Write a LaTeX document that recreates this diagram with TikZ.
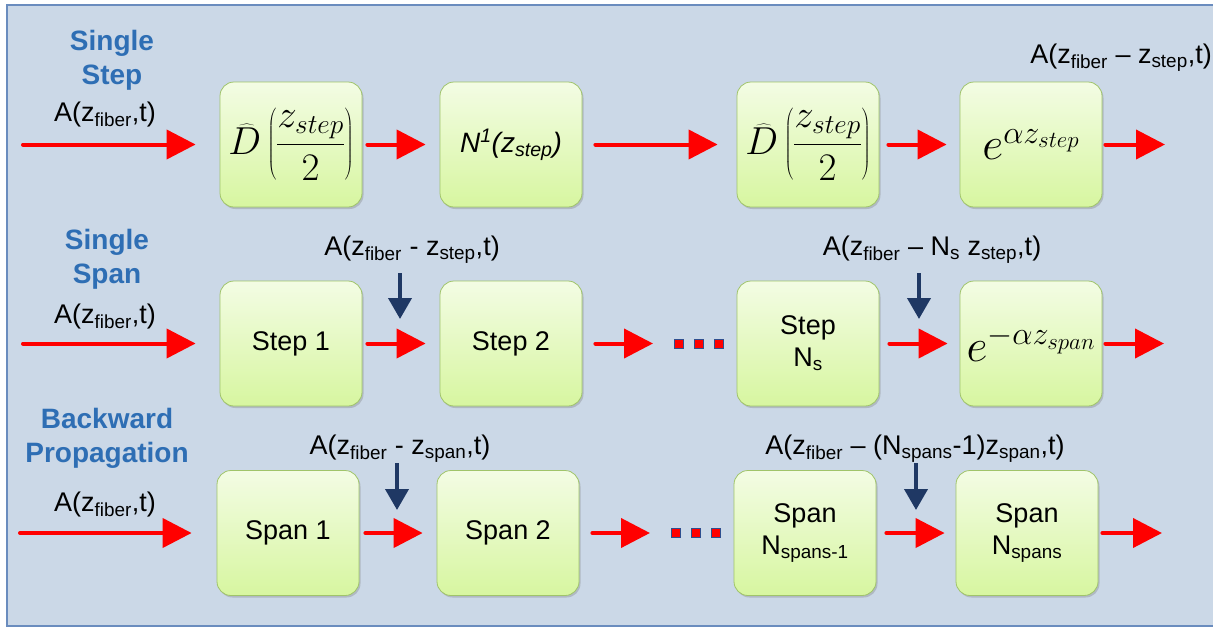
\RequirePackage{fix-cm}
\documentclass[tikz,border=0pt]{standalone}
\usepackage{fontspec}
\setmainfont{Liberation Sans}
\usetikzlibrary{arrows.meta,shadows}
\definecolor{bg}{RGB}{203,216,231}
\definecolor{frame}{RGB}{106,140,190}
\definecolor{hblue}{RGB}{46,110,180}
\definecolor{navy}{RGB}{31,56,100}
\definecolor{boxtop}{RGB}{243,252,228}
\definecolor{boxbot}{RGB}{215,246,160}
\definecolor{boxline}{RGB}{160,196,106}
\definecolor{dotline}{RGB}{47,79,143}
\definecolor{flowred}{RGB}{255,0,0}
\begin{document}
\begin{tikzpicture}[x=1pt,y=-1pt,
  blk/.style={rounded corners=14pt, minimum width=142pt, minimum height=125pt,
    top color=boxtop, bottom color=boxbot, draw=boxline, line width=0.8pt,
    drop shadow={opacity=0.35, shadow xshift=1.5pt, shadow yshift=-2pt},
    align=center, font=\fontsize{27}{32}\selectfont, inner sep=0pt},
  flow/.style={draw=flowred, line width=4pt, line cap=round,
    -{Triangle[length=29pt,width=29pt,fill=flowred]}},
  down/.style={draw=navy, line width=4pt,
    -{Triangle[length=21pt,width=23pt,fill=navy]}},
  head/.style={text=hblue, font=\bfseries\fontsize{28}{34}\selectfont, align=center, inner sep=0pt},
  lbl/.style={font=\fontsize{27}{31}\selectfont, inner sep=0pt},
  sq/.style={fill=flowred, draw=dotline, line width=1pt, minimum size=9pt, inner sep=0pt},
  mathbig/.style={font=\fontsize{39}{42}\selectfont},
  mathexp/.style={font=\fontsize{46}{50}\selectfont}
]
\useasboundingbox (0,0) rectangle (1213,627);
\fill[white] (0,0) rectangle (1213,627);
\begin{scope}
  \clip (0,0) rectangle (1213,627);
  \filldraw[fill=bg, draw=frame, line width=1.5pt] (7,5) rectangle (1230,626);
\end{scope}

% ---------- Row 1: Single Step ----------
\node[head] (h1) at (112,60) {Single\\Step};
\node[lbl] (a1) at (105,115) {A(z\textsubscript{fiber},t)};
\node[blk,mathbig] (s1) at (291,144.5) {$\displaystyle\widehat{D}\left(\frac{z_{step}}{2}\right)$};
\node[blk,font=\fontsize{28}{32}\selectfont] (s2) at (511,144.5) {\itshape N\textsuperscript{1}(z\textsubscript{step})};
\node[blk,mathbig] (s3) at (808,144.5) {$\displaystyle\widehat{D}\left(\frac{z_{step}}{2}\right)$};
\node[blk,mathexp] (s4) at (1031,144.5) {$e^{\alpha z_{step}}$};
\node[lbl] (r1) at (1121,58) {A(z\textsubscript{fiber} -- z\textsubscript{step},t)};
\coordinate (i1) at (23,144.5);
\coordinate (o1) at (1165,144.5);
\draw[flow] (i1) -- ([xshift=-24pt]s1.west);
\draw[flow] ([xshift=5pt]s1.east) -- ([xshift=-14pt]s2.west);
\draw[flow] ([xshift=13pt]s2.east) -- ([xshift=-19pt]s3.west);
\draw[flow] ([xshift=9pt]s3.east) -- ([xshift=-13pt]s4.west);
\draw[flow] ([xshift=3pt]s4.east) -- (o1);

% ---------- Row 2: Single Span ----------
\node[head] (h2) at (107,259.5) {Single\\Span};
\node[lbl] (a2) at (105,317) {A(z\textsubscript{fiber},t)};
\node[blk] (p1) at (291,343.5) {Step 1};
\node[blk] (p2) at (511,343.5) {Step 2};
\node[blk] (p3) at (808,343.5) {Step\\N\textsubscript{s}};
\node[blk,mathexp] (p4) at (1031,343.5) {$e^{-\alpha z_{span}}$};
\node[lbl] (l2a) at (412,250) {A(z\textsubscript{fiber} - z\textsubscript{step},t)};
\node[lbl] (l2b) at (932,250) {A(z\textsubscript{fiber} -- N\textsubscript{s} z\textsubscript{step},t)};
\node[sq] (d21) at (679,343.5) {};
\node[sq] (d22) at (699,343.5) {};
\node[sq] (d23) at (719,343.5) {};
\coordinate (i2) at (23,343.5);
\coordinate (m2) at (653,343.5);
\coordinate (o2) at (1164,343.5);
\draw[flow] (i2) -- ([xshift=-24pt]p1.west);
\draw[flow] ([xshift=5pt]p1.east) -- ([xshift=-14pt]p2.west);
\draw[flow] ([xshift=13pt]p2.east) -- (m2);
\draw[flow] ([xshift=10pt]p3.east) -- ([xshift=-12pt]p4.west);
\draw[flow] ([xshift=3pt]p4.east) -- (o2);
\coordinate (t2a) at (400,273);
\coordinate (b2a) at (400,319);
\coordinate (t2b) at (919,273);
\coordinate (b2b) at (919,319);
\draw[down] (t2a) -- (b2a);
\draw[down] (t2b) -- (b2b);

% ---------- Row 3: Backward Propagation ----------
\node[head] (h3) at (107,438) {Backward\\Propagation};
\node[lbl] (a3) at (105,505) {A(z\textsubscript{fiber},t)};
\node[blk] (q1) at (288,533) {Span 1};
\node[blk] (q2) at (508,533) {Span 2};
\node[blk] (q3) at (805,533) {Span\\N\textsubscript{spans-1}};
\node[blk] (q4) at (1027,533) {Span\\N\textsubscript{spans}};
\node[lbl] (l3a) at (400,449) {A(z\textsubscript{fiber} - z\textsubscript{span},t)};
\node[lbl] (l3b) at (915,449) {A(z\textsubscript{fiber} -- (N\textsubscript{spans}-1)z\textsubscript{span},t)};
\node[sq] (d31) at (676,533) {};
\node[sq] (d32) at (696,533) {};
\node[sq] (d33) at (716,533) {};
\coordinate (i3) at (20,533);
\coordinate (m3) at (650,533);
\coordinate (o3) at (1162,533);
\draw[flow] (i3) -- ([xshift=-25pt]q1.west);
\draw[flow] ([xshift=6pt]q1.east) -- ([xshift=-14pt]q2.west);
\draw[flow] ([xshift=13pt]q2.east) -- (m3);
\draw[flow] ([xshift=10pt]q3.east) -- ([xshift=-11pt]q4.west);
\draw[flow] ([xshift=4pt]q4.east) -- (o3);
\coordinate (t3a) at (397,463);
\coordinate (b3a) at (397,510);
\coordinate (t3b) at (916,463);
\coordinate (b3b) at (916,510);
\draw[down] (t3a) -- (b3a);
\draw[down] (t3b) -- (b3b);
\end{tikzpicture}
\end{document}
